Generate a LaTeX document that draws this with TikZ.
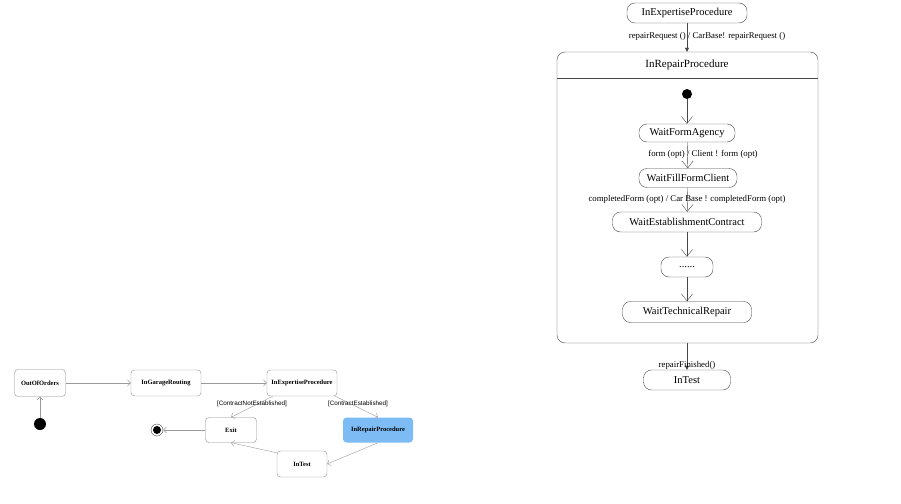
\documentclass[tikz,border=0pt]{standalone}
\usepackage{fontspec}
\setmainfont{Liberation Serif}
\setsansfont{Liberation Sans}
\usetikzlibrary{arrows.meta, positioning}
\definecolor{lightgray}{RGB}{155,155,155}
\definecolor{boxgray}{RGB}{140,140,140}
\definecolor{darkgray}{RGB}{70,70,70}
\definecolor{repairblue}{RGB}{125,187,245}

\tikzset{
    smallstate/.style={draw=boxgray,rounded corners=3.5pt,minimum height=26pt,inner sep=1pt,
        font=\fontsize{6.5}{7}\selectfont\bfseries},
    guard/.style={font=\sffamily\fontsize{6.3}{7}\selectfont,inner sep=0pt},
    smallarrow/.style={draw=lightgray,-{Straight Barb[length=3pt,width=6pt]}},
    bigstate/.style={draw=darkgray,rounded corners=8pt,minimum height=20pt,inner sep=1pt,
        font=\fontsize{10.5}{12}\selectfont},
    trigger/.style={font=\fontsize{8.8}{10}\selectfont,inner sep=0pt},
    openarrow/.style={draw=darkgray,-{Straight Barb[length=7pt,width=11pt]}},
    fillarrow/.style={draw=darkgray,-{Triangle[length=4pt,width=4pt]}}
}

\begin{document}
\begin{tikzpicture}[x=1pt,y=-1pt]
    \useasboundingbox (0,0) rectangle (901,503);

    % small machine
    \node[smallstate,minimum width=51pt,minimum height=27pt] (outoforders) at (40,383) {OutOfOrders};
    \node[smallstate,minimum width=70pt] (garage) at (166,383) {InGarageRouting};
    \node[smallstate,minimum width=70pt] (expertise) at (302,383) {InExpertiseProcedure};
    \node[smallstate,minimum width=51pt,minimum height=25pt] (exit) at (231,430) {Exit};
    \node[smallstate,draw=none,fill=repairblue,minimum width=70pt,minimum height=25pt] (repair) at (378,430) {InRepairProcedure};
    \node[smallstate,minimum width=50pt] (test) at (302,464) {InTest};
    \node[circle,fill=black,minimum size=12pt,inner sep=0pt] (start) at (40,424) {};
    \node[circle,draw=darkgray,minimum size=12pt,inner sep=0pt] (final) at (157,430) {};
    \node[circle,fill=black,minimum size=8pt,inner sep=0pt] at (final) {};

    \draw[smallarrow] (start) -- (outoforders);
    \draw[smallarrow] (outoforders) -- (garage);
    \draw[smallarrow] (garage) -- (expertise);
    \draw[smallarrow] ([xshift=6pt]expertise.south west) -- (exit.north);
    \draw[smallarrow] ([xshift=-2pt]expertise.south east) -- (repair.north);
    \draw[smallarrow] (repair.south) -- (test.east);
    \draw[smallarrow] ([yshift=-2pt]test.north west) -- (exit.south);
    \draw[smallarrow] (exit) -- (final);
    \node[guard] at (252,404) {[ContractNotEstablished]};
    \node[guard] at (358,404) {[ContractEstablished]};

    % repair procedure
    \node[bigstate,minimum width=120pt] (expertise2) at (687,13) {InExpertiseProcedure};
    \node[draw=darkgray,rounded corners=8pt,minimum width=261pt,minimum height=291pt] (box) at (687.5,197.5) {};
    \node[font=\fontsize{11}{12}\selectfont] (boxtitle) at (687,65) {InRepairProcedure};
    \draw[darkgray] ([yshift=-26pt]box.north west) -- ([yshift=-26pt]box.north east);
    \node[circle,fill=black,minimum size=10pt,inner sep=0pt] (start2) at (687,94) {};
    \node[bigstate,minimum width=96pt,minimum height=18pt] (agency) at (687,133) {WaitFormAgency};
    \node[bigstate,minimum width=98pt,minimum height=19pt] (client) at (688,178) {WaitFillFormClient};
    \node[bigstate,minimum width=149pt] (contract) at (687,222) {WaitEstablishmentContract};
    \node[bigstate,minimum width=52pt] (more) at (687,267) {......};
    \node[bigstate,minimum width=129pt,minimum height=21pt] (technical) at (687,312) {WaitTechnicalRepair};
    \node[bigstate,minimum width=87pt] (test2) at (687,380) {InTest};

    \draw[fillarrow] (expertise2) -- (expertise2 |- box.north);
    \draw[openarrow] (start2) -- (agency);
    \draw[openarrow] (agency) -- (client);
    \draw[openarrow] (client) -- (contract);
    \draw[openarrow] (contract) -- (more);
    \draw[openarrow] (more) -- (technical);
    \draw[fillarrow] (test2 |- box.south) -- (test2);
    \node[trigger] at (707,36) {repairRequest () / CarBase! repairRequest ()};
    \node[trigger] at (703,154) {form (opt) / Client ! form (opt)};
    \node[trigger] at (687,199) {completedForm (opt) / Car Base ! completedForm (opt)};
    \node[trigger] at (687,365) {repairFinished()};
\end{tikzpicture}
\end{document}
